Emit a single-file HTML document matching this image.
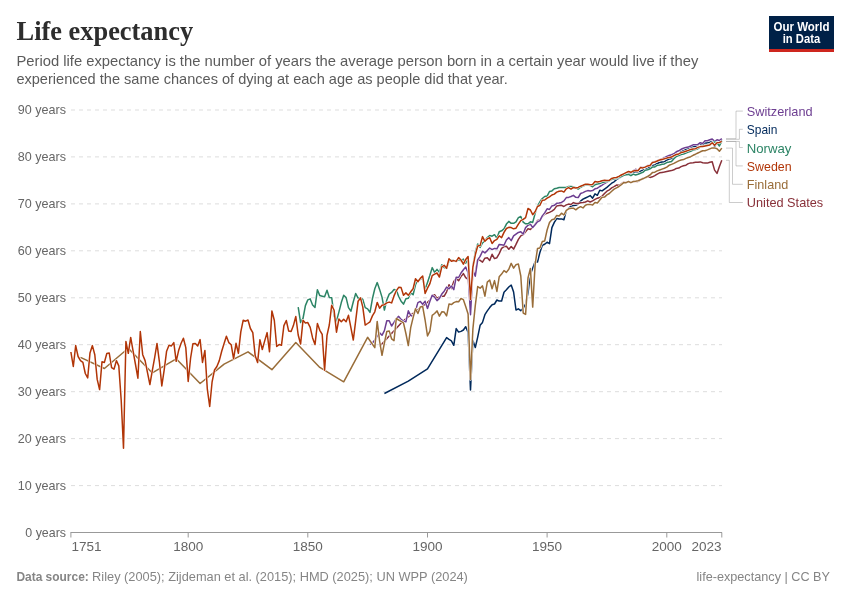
<!DOCTYPE html>
<html lang="en">
<head>
<meta charset="utf-8">
<title>Life expectancy</title>
<style>
html,body{margin:0;padding:0;background:#fff;}
body{width:850px;height:600px;overflow:hidden;}
svg{display:block;}
svg text{font-family:"Liberation Sans",sans-serif;}
svg text.serif{font-family:"Liberation Serif",serif;}
</style>
</head>
<body>
<svg width="850" height="600" viewBox="0 0 850 600">
<rect width="850" height="600" fill="#fff"/>
<g id="header">
<text class="serif" x="16.6" y="40" font-size="26.5" font-weight="bold" fill="#2d2d2d" textLength="176.5" lengthAdjust="spacingAndGlyphs">Life expectancy</text>
<text x="16.4" y="66" font-size="15" fill="#5b5b5b" textLength="681.9" lengthAdjust="spacingAndGlyphs">Period life expectancy is the number of years the average person born in a certain year would live if they</text>
<text x="16.4" y="84" font-size="15" fill="#5b5b5b" textLength="491.3" lengthAdjust="spacingAndGlyphs">experienced the same chances of dying at each age as people did that year.</text>
</g>
<g id="logo">
<rect x="769" y="16" width="65" height="36" fill="#002147"/>
<rect x="769" y="49" width="65" height="3" fill="#ce261e"/>
<text x="801.5" y="31" font-size="12" font-weight="bold" fill="#fff" text-anchor="middle" textLength="56" lengthAdjust="spacingAndGlyphs">Our World</text>
<text x="801.5" y="43" font-size="12" font-weight="bold" fill="#fff" text-anchor="middle" textLength="37.5" lengthAdjust="spacingAndGlyphs">in Data</text>
</g>
<g id="grid" stroke="#ddd" stroke-width="1" stroke-dasharray="4,4" fill="none">
<line x1="71" y1="485.6" x2="722" y2="485.6"/>
<line x1="71" y1="438.6" x2="722" y2="438.6"/>
<line x1="71" y1="391.7" x2="722" y2="391.7"/>
<line x1="71" y1="344.7" x2="722" y2="344.7"/>
<line x1="71" y1="297.8" x2="722" y2="297.8"/>
<line x1="71" y1="250.8" x2="722" y2="250.8"/>
<line x1="71" y1="203.9" x2="722" y2="203.9"/>
<line x1="71" y1="156.9" x2="722" y2="156.9"/>
<line x1="71" y1="110.0" x2="722" y2="110.0"/>
</g>
<g id="ylabels">
<text x="66" y="537" font-size="13.2" fill="#666" text-anchor="end" textLength="40.7" lengthAdjust="spacingAndGlyphs">0 years</text>
<text x="66" y="490" font-size="13.2" fill="#666" text-anchor="end" textLength="48.2" lengthAdjust="spacingAndGlyphs">10 years</text>
<text x="66" y="443" font-size="13.2" fill="#666" text-anchor="end" textLength="48.2" lengthAdjust="spacingAndGlyphs">20 years</text>
<text x="66" y="396" font-size="13.2" fill="#666" text-anchor="end" textLength="48.2" lengthAdjust="spacingAndGlyphs">30 years</text>
<text x="66" y="349" font-size="13.2" fill="#666" text-anchor="end" textLength="48.2" lengthAdjust="spacingAndGlyphs">40 years</text>
<text x="66" y="302" font-size="13.2" fill="#666" text-anchor="end" textLength="48.2" lengthAdjust="spacingAndGlyphs">50 years</text>
<text x="66" y="255" font-size="13.2" fill="#666" text-anchor="end" textLength="48.2" lengthAdjust="spacingAndGlyphs">60 years</text>
<text x="66" y="208" font-size="13.2" fill="#666" text-anchor="end" textLength="48.2" lengthAdjust="spacingAndGlyphs">70 years</text>
<text x="66" y="161" font-size="13.2" fill="#666" text-anchor="end" textLength="48.2" lengthAdjust="spacingAndGlyphs">80 years</text>
<text x="66" y="114" font-size="13.2" fill="#666" text-anchor="end" textLength="48.2" lengthAdjust="spacingAndGlyphs">90 years</text>
</g>
<g id="xaxis">
<path d="M70.5,532.5H722" stroke="#999" stroke-width="1" fill="none"/>
<line x1="70.9" y1="532.5" x2="70.9" y2="537.5" stroke="#999" stroke-width="1"/>
<text x="71.5" y="551" font-size="13.5" fill="#666" textLength="30.1" lengthAdjust="spacingAndGlyphs">1751</text>
<line x1="188.2" y1="532.5" x2="188.2" y2="537.5" stroke="#999" stroke-width="1"/>
<text x="188.2" y="551" font-size="13.5" fill="#666" text-anchor="middle" textLength="30.1" lengthAdjust="spacingAndGlyphs">1800</text>
<line x1="307.8" y1="532.5" x2="307.8" y2="537.5" stroke="#999" stroke-width="1"/>
<text x="307.8" y="551" font-size="13.5" fill="#666" text-anchor="middle" textLength="30.1" lengthAdjust="spacingAndGlyphs">1850</text>
<line x1="427.5" y1="532.5" x2="427.5" y2="537.5" stroke="#999" stroke-width="1"/>
<text x="427.5" y="551" font-size="13.5" fill="#666" text-anchor="middle" textLength="30.1" lengthAdjust="spacingAndGlyphs">1900</text>
<line x1="547.1" y1="532.5" x2="547.1" y2="537.5" stroke="#999" stroke-width="1"/>
<text x="547.1" y="551" font-size="13.5" fill="#666" text-anchor="middle" textLength="30.1" lengthAdjust="spacingAndGlyphs">1950</text>
<line x1="666.8" y1="532.5" x2="666.8" y2="537.5" stroke="#999" stroke-width="1"/>
<text x="666.8" y="551" font-size="13.5" fill="#666" text-anchor="middle" textLength="30.1" lengthAdjust="spacingAndGlyphs">2000</text>
<line x1="721.8" y1="532.5" x2="721.8" y2="537.5" stroke="#999" stroke-width="1"/>
<text x="721.6" y="551" font-size="13.5" fill="#666" text-anchor="end" textLength="30.1" lengthAdjust="spacingAndGlyphs">2023</text>
</g>
<g id="lines" fill="none" stroke-linejoin="round" stroke-linecap="butt">
<path stroke="#fff" stroke-width="2.5" d="M384.4,393.5L408.3,381.2L427.5,368.8L446.6,337.6L449.0,339.4L451.4,340.8L453.8,345.3L456.2,328.6L458.6,332.1L461.0,331.4L463.4,330.0L465.7,326.7L468.1,332.4L470.5,390.0L472.9,340.5L475.3,347.5L477.7,337.1L480.1,325.3L482.5,322.4L484.9,314.7L487.3,310.9L489.7,307.6L492.1,304.7L494.5,304.0L496.9,300.0L499.2,301.1L501.6,301.0L504.0,292.2L506.4,289.8L508.8,287.0L511.2,285.1L513.6,292.0L516.0,310.0L518.4,308.8L520.8,310.6L523.2,308.4L525.6,304.0L528.0,293.2L530.4,274.2L532.7,268.2L535.1,261.8L537.5,262.1L539.9,252.4L542.3,245.3L544.7,244.3L547.1,242.2L549.5,243.6L551.9,227.6L554.3,222.4L556.7,218.5L559.1,219.1L561.5,218.9L563.9,219.7L566.3,210.6L568.6,208.2L571.0,206.1L573.4,205.6L575.8,205.3L578.2,204.1L580.6,201.2L583.0,199.2L585.4,198.0L587.8,196.8L590.2,195.6L592.6,198.2L595.0,193.8L597.4,195.3L599.8,190.2L602.1,190.9L604.5,189.1L606.9,187.4L609.3,185.3L611.7,183.2L614.1,181.8L616.5,179.6L618.9,178.2L621.3,176.8L623.7,175.4L626.1,174.6L628.5,173.2L630.9,173.4L633.3,172.2L635.6,171.5L638.0,171.8L640.4,171.2L642.8,170.3L645.2,169.4L647.6,168.4L650.0,167.1L652.4,165.6L654.8,165.0L657.2,163.5L659.6,162.5L662.0,161.9L664.4,161.8L666.8,160.0L669.1,159.1L671.5,158.6L673.9,158.4L676.3,154.2L678.7,154.0L681.1,151.6L683.5,150.6L685.9,149.3L688.3,148.2L690.7,147.1L693.1,146.6L695.5,146.6L697.9,144.8L700.3,144.1L702.7,144.8L705.0,143.0L707.4,143.0L709.8,142.3L712.2,141.1L714.6,146.4L717.0,142.6L719.4,142.8L721.8,139.3"/>
<path id="spain" stroke="#00295B" stroke-width="1.5" d="M384.4,393.5L408.3,381.2L427.5,368.8L446.6,337.6L449.0,339.4L451.4,340.8L453.8,345.3L456.2,328.6L458.6,332.1L461.0,331.4L463.4,330.0L465.7,326.7L468.1,332.4L470.5,390.0L472.9,340.5L475.3,347.5L477.7,337.1L480.1,325.3L482.5,322.4L484.9,314.7L487.3,310.9L489.7,307.6L492.1,304.7L494.5,304.0L496.9,300.0L499.2,301.1L501.6,301.0L504.0,292.2L506.4,289.8L508.8,287.0L511.2,285.1L513.6,292.0L516.0,310.0L518.4,308.8L520.8,310.6L523.2,308.4L525.6,304.0L528.0,293.2L530.4,274.2L532.7,268.2L535.1,261.8L537.5,262.1L539.9,252.4L542.3,245.3L544.7,244.3L547.1,242.2L549.5,243.6L551.9,227.6L554.3,222.4L556.7,218.5L559.1,219.1L561.5,218.9L563.9,219.7L566.3,210.6L568.6,208.2L571.0,206.1L573.4,205.6L575.8,205.3L578.2,204.1L580.6,201.2L583.0,199.2L585.4,198.0L587.8,196.8L590.2,195.6L592.6,198.2L595.0,193.8L597.4,195.3L599.8,190.2L602.1,190.9L604.5,189.1L606.9,187.4L609.3,185.3L611.7,183.2L614.1,181.8L616.5,179.6L618.9,178.2L621.3,176.8L623.7,175.4L626.1,174.6L628.5,173.2L630.9,173.4L633.3,172.2L635.6,171.5L638.0,171.8L640.4,171.2L642.8,170.3L645.2,169.4L647.6,168.4L650.0,167.1L652.4,165.6L654.8,165.0L657.2,163.5L659.6,162.5L662.0,161.9L664.4,161.8L666.8,160.0L669.1,159.1L671.5,158.6L673.9,158.4L676.3,154.2L678.7,154.0L681.1,151.6L683.5,150.6L685.9,149.3L688.3,148.2L690.7,147.1L693.1,146.6L695.5,146.6L697.9,144.8L700.3,144.1L702.7,144.8L705.0,143.0L707.4,143.0L709.8,142.3L712.2,141.1L714.6,146.4L717.0,142.6L719.4,142.8L721.8,139.3"/>
<path stroke="#fff" stroke-width="2.5" d="M379.6,346.5L403.5,320.5L427.5,302.4L429.9,300.0L432.2,296.0L434.6,294.7L437.0,298.4L439.4,297.0L441.8,296.0L444.2,296.2L446.6,291.8L449.0,284.7L451.4,288.5L453.8,281.4L456.2,278.5L458.6,280.8L461.0,276.5L463.4,273.6L465.7,277.6L468.1,279.3L470.5,305.0L472.9,272.0L475.3,272.5L477.7,259.5L480.1,260.3L482.5,262.1L484.9,258.2L487.3,257.8L489.7,260.5L492.1,254.3L494.5,258.6L496.9,257.7L499.2,253.6L501.6,248.4L504.0,246.6L506.4,246.2L508.8,249.3L511.2,246.5L513.6,249.1L516.0,244.4L518.4,239.4L520.8,235.9L523.2,234.7L525.6,231.8L528.0,228.8L530.4,229.4L532.7,227.0L535.1,224.5L537.5,220.6L539.9,220.0L542.3,216.5L544.7,214.1L547.1,213.2L549.5,212.4L551.9,211.2L554.3,209.4L556.7,205.9L559.1,205.6L561.5,205.3L563.9,206.5L566.3,204.9L568.6,204.1L571.0,204.5L573.4,202.6L575.8,203.5L578.2,203.5L580.6,202.7L583.0,202.4L585.4,202.0L587.8,200.8L590.2,202.0L592.6,200.8L595.0,199.4L597.4,198.2L599.8,197.6L602.1,196.1L604.5,193.5L606.9,191.2L609.3,189.8L611.7,187.9L614.1,186.7L616.5,185.1L618.9,185.3L621.3,183.8L623.7,182.2L626.1,182.4L628.5,181.8L630.9,181.9L633.3,181.6L635.6,181.2L638.0,181.4L640.4,180.0L642.8,178.4L645.2,178.0L647.6,176.6L650.0,177.4L652.4,176.8L654.8,175.6L657.2,174.1L659.6,172.8L662.0,172.4L664.4,172.1L666.8,171.5L669.1,170.9L671.5,170.6L673.9,169.8L676.3,168.4L678.7,168.1L681.1,166.6L683.5,165.8L685.9,165.2L688.3,163.6L690.7,162.9L693.1,162.7L695.5,162.2L697.9,162.2L700.3,161.9L702.7,162.7L705.0,163.1L707.4,163.1L709.8,162.2L712.2,161.7L714.6,170.1L717.0,173.4L719.4,166.6L721.8,160.3"/>
<path id="usa" stroke="#883039" stroke-width="1.5" d="M379.6,346.5L403.5,320.5L427.5,302.4L429.9,300.0L432.2,296.0L434.6,294.7L437.0,298.4L439.4,297.0L441.8,296.0L444.2,296.2L446.6,291.8L449.0,284.7L451.4,288.5L453.8,281.4L456.2,278.5L458.6,280.8L461.0,276.5L463.4,273.6L465.7,277.6L468.1,279.3L470.5,305.0L472.9,272.0L475.3,272.5L477.7,259.5L480.1,260.3L482.5,262.1L484.9,258.2L487.3,257.8L489.7,260.5L492.1,254.3L494.5,258.6L496.9,257.7L499.2,253.6L501.6,248.4L504.0,246.6L506.4,246.2L508.8,249.3L511.2,246.5L513.6,249.1L516.0,244.4L518.4,239.4L520.8,235.9L523.2,234.7L525.6,231.8L528.0,228.8L530.4,229.4L532.7,227.0L535.1,224.5L537.5,220.6L539.9,220.0L542.3,216.5L544.7,214.1L547.1,213.2L549.5,212.4L551.9,211.2L554.3,209.4L556.7,205.9L559.1,205.6L561.5,205.3L563.9,206.5L566.3,204.9L568.6,204.1L571.0,204.5L573.4,202.6L575.8,203.5L578.2,203.5L580.6,202.7L583.0,202.4L585.4,202.0L587.8,200.8L590.2,202.0L592.6,200.8L595.0,199.4L597.4,198.2L599.8,197.6L602.1,196.1L604.5,193.5L606.9,191.2L609.3,189.8L611.7,187.9L614.1,186.7L616.5,185.1L618.9,185.3L621.3,183.8L623.7,182.2L626.1,182.4L628.5,181.8L630.9,181.9L633.3,181.6L635.6,181.2L638.0,181.4L640.4,180.0L642.8,178.4L645.2,178.0L647.6,176.6L650.0,177.4L652.4,176.8L654.8,175.6L657.2,174.1L659.6,172.8L662.0,172.4L664.4,172.1L666.8,171.5L669.1,170.9L671.5,170.6L673.9,169.8L676.3,168.4L678.7,168.1L681.1,166.6L683.5,165.8L685.9,165.2L688.3,163.6L690.7,162.9L693.1,162.7L695.5,162.2L697.9,162.2L700.3,161.9L702.7,162.7L705.0,163.1L707.4,163.1L709.8,162.2L712.2,161.7L714.6,170.1L717.0,173.4L719.4,166.6L721.8,160.3"/>
<path stroke="#fff" stroke-width="2.5" d="M370.0,344.5L372.4,342.9L374.8,340.0L377.2,336.0L379.6,332.9L382.0,335.3L384.4,330.6L386.8,320.8L389.2,320.8L391.6,326.0L394.0,322.4L396.3,318.6L398.7,316.4L401.1,319.4L403.5,321.1L405.9,321.8L408.3,310.8L410.7,315.3L413.1,316.5L415.5,310.6L417.9,302.6L420.3,301.4L422.7,304.3L425.1,301.2L427.5,308.4L429.9,301.2L432.2,295.3L434.6,297.1L437.0,300.7L439.4,298.4L441.8,294.1L444.2,291.2L446.6,287.1L449.0,288.8L451.4,286.0L453.8,289.6L456.2,277.2L458.6,277.5L461.0,273.0L463.4,269.7L465.7,267.1L468.1,272.6L470.5,314.7L472.9,270.5L475.3,276.2L477.7,259.9L480.1,256.4L482.5,251.2L484.9,252.9L487.3,250.6L489.7,248.0L492.1,249.6L494.5,248.4L496.9,248.8L499.2,244.4L501.6,244.8L504.0,245.2L506.4,240.0L508.8,237.6L511.2,240.6L513.6,235.9L516.0,234.1L518.4,232.4L520.8,231.8L523.2,234.1L525.6,227.6L528.0,225.3L530.4,224.1L532.7,227.6L535.1,224.7L537.5,221.8L539.9,220.6L542.3,215.9L544.7,212.9L547.1,208.8L549.5,209.4L551.9,205.9L554.3,205.3L556.7,203.3L559.1,202.9L561.5,202.4L563.9,200.9L566.3,197.6L568.6,197.4L571.0,196.5L573.4,195.3L575.8,197.3L578.2,197.6L580.6,193.5L583.0,192.6L585.4,191.4L587.8,190.6L590.2,190.9L592.6,190.6L595.0,188.8L597.4,188.2L599.8,186.5L602.1,185.1L604.5,183.5L606.9,182.0L609.3,180.8L611.7,179.2L614.1,178.2L616.5,177.8L618.9,176.7L621.3,175.3L623.7,174.1L626.1,172.9L628.5,171.8L630.9,172.4L633.3,170.6L635.6,169.3L638.0,170.4L640.4,167.3L642.8,167.6L645.2,166.8L647.6,165.6L650.0,165.2L652.4,162.2L654.8,161.8L657.2,160.7L659.6,159.6L662.0,158.8L664.4,157.6L666.8,156.5L669.1,155.5L671.5,154.7L673.9,153.8L676.3,151.8L678.7,150.8L681.1,149.3L683.5,148.2L685.9,147.4L688.3,147.1L690.7,146.0L693.1,144.8L695.5,144.8L697.9,144.4L700.3,142.7L702.7,143.5L705.0,140.8L707.4,140.7L709.8,139.8L712.2,139.0L714.6,141.3L717.0,139.8L719.4,140.5L721.8,138.6"/>
<path id="swiss" stroke="#6D3E91" stroke-width="1.5" d="M370.0,344.5L372.4,342.9L374.8,340.0L377.2,336.0L379.6,332.9L382.0,335.3L384.4,330.6L386.8,320.8L389.2,320.8L391.6,326.0L394.0,322.4L396.3,318.6L398.7,316.4L401.1,319.4L403.5,321.1L405.9,321.8L408.3,310.8L410.7,315.3L413.1,316.5L415.5,310.6L417.9,302.6L420.3,301.4L422.7,304.3L425.1,301.2L427.5,308.4L429.9,301.2L432.2,295.3L434.6,297.1L437.0,300.7L439.4,298.4L441.8,294.1L444.2,291.2L446.6,287.1L449.0,288.8L451.4,286.0L453.8,289.6L456.2,277.2L458.6,277.5L461.0,273.0L463.4,269.7L465.7,267.1L468.1,272.6L470.5,314.7L472.9,270.5L475.3,276.2L477.7,259.9L480.1,256.4L482.5,251.2L484.9,252.9L487.3,250.6L489.7,248.0L492.1,249.6L494.5,248.4L496.9,248.8L499.2,244.4L501.6,244.8L504.0,245.2L506.4,240.0L508.8,237.6L511.2,240.6L513.6,235.9L516.0,234.1L518.4,232.4L520.8,231.8L523.2,234.1L525.6,227.6L528.0,225.3L530.4,224.1L532.7,227.6L535.1,224.7L537.5,221.8L539.9,220.6L542.3,215.9L544.7,212.9L547.1,208.8L549.5,209.4L551.9,205.9L554.3,205.3L556.7,203.3L559.1,202.9L561.5,202.4L563.9,200.9L566.3,197.6L568.6,197.4L571.0,196.5L573.4,195.3L575.8,197.3L578.2,197.6L580.6,193.5L583.0,192.6L585.4,191.4L587.8,190.6L590.2,190.9L592.6,190.6L595.0,188.8L597.4,188.2L599.8,186.5L602.1,185.1L604.5,183.5L606.9,182.0L609.3,180.8L611.7,179.2L614.1,178.2L616.5,177.8L618.9,176.7L621.3,175.3L623.7,174.1L626.1,172.9L628.5,171.8L630.9,172.4L633.3,170.6L635.6,169.3L638.0,170.4L640.4,167.3L642.8,167.6L645.2,166.8L647.6,165.6L650.0,165.2L652.4,162.2L654.8,161.8L657.2,160.7L659.6,159.6L662.0,158.8L664.4,157.6L666.8,156.5L669.1,155.5L671.5,154.7L673.9,153.8L676.3,151.8L678.7,150.8L681.1,149.3L683.5,148.2L685.9,147.4L688.3,147.1L690.7,146.0L693.1,144.8L695.5,144.8L697.9,144.4L700.3,142.7L702.7,143.5L705.0,140.8L707.4,140.7L709.8,139.8L712.2,139.0L714.6,141.3L717.0,139.8L719.4,140.5L721.8,138.6"/>
<path stroke="#fff" stroke-width="2.5" d="M298.2,307.1L300.6,322.6L303.0,318.5L305.4,305.6L307.8,299.9L310.2,298.9L312.6,305.0L315.0,307.4L317.4,289.7L319.8,295.6L322.2,296.2L324.6,296.8L327.0,290.3L329.3,297.4L331.7,297.7L334.1,316.2L336.5,320.9L338.9,312.1L341.3,302.6L343.7,295.3L346.1,297.6L348.5,307.6L350.9,311.2L353.3,301.8L355.7,293.5L358.1,298.2L360.5,298.0L362.8,299.4L365.2,307.6L367.6,308.8L370.0,312.4L372.4,298.8L374.8,288.8L377.2,282.6L379.6,289.4L382.0,297.1L384.4,310.0L386.8,300.0L389.2,294.1L391.6,292.4L394.0,289.6L396.3,290.0L398.7,296.5L401.1,301.2L403.5,304.1L405.9,298.8L408.3,298.2L410.7,292.9L413.1,294.7L415.5,284.7L417.9,280.0L420.3,279.4L422.7,277.6L425.1,289.4L427.5,282.4L429.9,275.3L432.2,267.6L434.6,272.4L437.0,269.4L439.4,272.4L441.8,264.7L444.2,267.6L446.6,268.4L449.0,260.9L451.4,260.3L453.8,260.8L456.2,261.5L458.6,259.7L461.0,260.8L463.4,259.1L465.7,263.2L468.1,258.0L470.5,295.0L472.9,266.0L475.3,252.0L477.7,243.9L480.1,247.4L482.5,242.9L484.9,241.0L487.3,237.5L489.7,235.6L492.1,236.2L494.5,234.7L496.9,238.2L499.2,231.8L501.6,230.8L504.0,228.8L506.4,224.1L508.8,221.4L511.2,223.3L513.6,223.3L516.0,221.8L518.4,217.6L520.8,216.5L523.2,222.1L525.6,223.8L528.0,223.8L530.4,221.8L532.7,222.4L535.1,213.5L537.5,206.0L539.9,201.8L542.3,198.5L544.7,196.5L547.1,196.1L549.5,191.5L551.9,190.9L554.3,188.8L556.7,188.2L559.1,187.5L561.5,187.4L563.9,187.6L566.3,187.4L568.6,186.5L571.0,186.5L573.4,186.8L575.8,187.6L578.2,189.1L580.6,187.2L583.0,186.1L585.4,185.0L587.8,184.8L590.2,185.4L592.6,186.8L595.0,184.7L597.4,184.1L599.8,183.5L602.1,182.6L604.5,182.1L606.9,181.4L609.3,180.9L611.7,179.4L614.1,178.8L616.5,178.4L618.9,177.6L621.3,176.6L623.7,175.4L626.1,174.7L628.5,174.4L630.9,175.7L633.3,174.1L635.6,175.0L638.0,174.3L640.4,173.2L642.8,172.4L645.2,170.3L647.6,169.7L650.0,168.8L652.4,167.1L654.8,166.9L657.2,165.3L659.6,164.9L662.0,164.3L664.4,163.9L666.8,162.6L669.1,162.1L671.5,161.5L673.9,158.8L676.3,156.5L678.7,155.6L681.1,154.5L683.5,154.0L685.9,153.0L688.3,152.0L690.7,151.2L693.1,150.1L695.5,149.5L697.9,148.7L700.3,146.8L702.7,146.2L705.0,145.6L707.4,145.0L709.8,144.2L712.2,143.0L714.6,141.9L717.0,142.8L719.4,146.0L721.8,141.2"/>
<path id="norway" stroke="#2C8465" stroke-width="1.5" d="M298.2,307.1L300.6,322.6L303.0,318.5L305.4,305.6L307.8,299.9L310.2,298.9L312.6,305.0L315.0,307.4L317.4,289.7L319.8,295.6L322.2,296.2L324.6,296.8L327.0,290.3L329.3,297.4L331.7,297.7L334.1,316.2L336.5,320.9L338.9,312.1L341.3,302.6L343.7,295.3L346.1,297.6L348.5,307.6L350.9,311.2L353.3,301.8L355.7,293.5L358.1,298.2L360.5,298.0L362.8,299.4L365.2,307.6L367.6,308.8L370.0,312.4L372.4,298.8L374.8,288.8L377.2,282.6L379.6,289.4L382.0,297.1L384.4,310.0L386.8,300.0L389.2,294.1L391.6,292.4L394.0,289.6L396.3,290.0L398.7,296.5L401.1,301.2L403.5,304.1L405.9,298.8L408.3,298.2L410.7,292.9L413.1,294.7L415.5,284.7L417.9,280.0L420.3,279.4L422.7,277.6L425.1,289.4L427.5,282.4L429.9,275.3L432.2,267.6L434.6,272.4L437.0,269.4L439.4,272.4L441.8,264.7L444.2,267.6L446.6,268.4L449.0,260.9L451.4,260.3L453.8,260.8L456.2,261.5L458.6,259.7L461.0,260.8L463.4,259.1L465.7,263.2L468.1,258.0L470.5,295.0L472.9,266.0L475.3,252.0L477.7,243.9L480.1,247.4L482.5,242.9L484.9,241.0L487.3,237.5L489.7,235.6L492.1,236.2L494.5,234.7L496.9,238.2L499.2,231.8L501.6,230.8L504.0,228.8L506.4,224.1L508.8,221.4L511.2,223.3L513.6,223.3L516.0,221.8L518.4,217.6L520.8,216.5L523.2,222.1L525.6,223.8L528.0,223.8L530.4,221.8L532.7,222.4L535.1,213.5L537.5,206.0L539.9,201.8L542.3,198.5L544.7,196.5L547.1,196.1L549.5,191.5L551.9,190.9L554.3,188.8L556.7,188.2L559.1,187.5L561.5,187.4L563.9,187.6L566.3,187.4L568.6,186.5L571.0,186.5L573.4,186.8L575.8,187.6L578.2,189.1L580.6,187.2L583.0,186.1L585.4,185.0L587.8,184.8L590.2,185.4L592.6,186.8L595.0,184.7L597.4,184.1L599.8,183.5L602.1,182.6L604.5,182.1L606.9,181.4L609.3,180.9L611.7,179.4L614.1,178.8L616.5,178.4L618.9,177.6L621.3,176.6L623.7,175.4L626.1,174.7L628.5,174.4L630.9,175.7L633.3,174.1L635.6,175.0L638.0,174.3L640.4,173.2L642.8,172.4L645.2,170.3L647.6,169.7L650.0,168.8L652.4,167.1L654.8,166.9L657.2,165.3L659.6,164.9L662.0,164.3L664.4,163.9L666.8,162.6L669.1,162.1L671.5,161.5L673.9,158.8L676.3,156.5L678.7,155.6L681.1,154.5L683.5,154.0L685.9,153.0L688.3,152.0L690.7,151.2L693.1,150.1L695.5,149.5L697.9,148.7L700.3,146.8L702.7,146.2L705.0,145.6L707.4,145.0L709.8,144.2L712.2,143.0L714.6,141.9L717.0,142.8L719.4,146.0L721.8,141.2"/>
<path stroke="#fff" stroke-width="2.5" d="M80.5,357.4L104.4,368.5L128.3,348.2L152.3,372.9L176.2,358.8L200.1,383.5L224.1,364.1L248.0,351.8L271.9,369.7L295.8,342.6L319.8,367.4L343.7,381.8L367.6,337.3L374.8,347.6L377.2,321.4L379.6,341.0L382.0,355.3L384.4,343.0L386.8,331.5L389.2,330.9L391.6,338.8L394.0,340.6L396.3,318.5L398.7,320.0L401.1,321.4L403.5,322.9L405.9,333.5L408.3,345.6L410.7,327.6L413.1,317.6L415.5,308.8L417.9,313.5L420.3,307.1L422.7,306.6L425.1,320.0L427.5,335.9L429.9,331.2L432.2,315.3L434.6,313.5L437.0,310.9L439.4,316.1L441.8,311.8L444.2,312.1L446.6,315.9L449.0,304.1L451.4,304.6L453.8,302.6L456.2,301.6L458.6,301.8L461.0,298.5L463.4,299.7L465.7,306.5L468.1,314.1L470.5,379.4L472.9,328.8L475.3,305.3L477.7,286.5L480.1,288.2L482.5,285.9L484.9,296.2L487.3,282.1L489.7,280.0L492.1,288.8L494.5,280.6L496.9,291.4L499.2,276.8L501.6,274.1L504.0,270.6L506.4,272.4L508.8,269.3L511.2,263.4L513.6,268.2L516.0,264.7L518.4,264.1L520.8,276.0L523.2,313.0L525.6,314.4L528.0,278.0L530.4,268.4L532.7,307.1L535.1,264.7L537.5,248.6L539.9,248.1L542.3,241.5L544.7,240.9L547.1,230.0L549.5,222.6L551.9,219.7L554.3,219.1L556.7,215.4L559.1,215.9L561.5,213.2L563.9,215.0L566.3,210.3L568.6,208.8L571.0,208.2L573.4,208.2L575.8,209.8L578.2,207.9L580.6,206.7L583.0,207.9L585.4,205.3L587.8,204.4L590.2,204.4L592.6,205.1L595.0,202.4L597.4,202.9L599.8,200.0L602.1,197.3L604.5,197.1L606.9,194.9L609.3,193.5L611.7,191.2L614.1,189.1L616.5,187.9L618.9,186.5L621.3,184.7L623.7,182.7L626.1,182.7L628.5,181.5L630.9,182.7L633.3,181.5L635.6,181.2L638.0,180.8L640.4,179.7L642.8,178.8L645.2,177.6L647.6,176.5L650.0,175.0L652.4,172.6L654.8,172.2L657.2,170.9L659.6,170.0L662.0,169.1L664.4,168.2L666.8,167.1L669.1,165.3L671.5,164.4L673.9,163.4L676.3,162.1L678.7,160.9L681.1,160.0L683.5,159.6L685.9,158.4L688.3,157.5L690.7,156.7L693.1,155.3L695.5,154.2L697.9,153.0L700.3,151.8L702.7,150.7L705.0,150.7L707.4,149.9L709.8,148.9L712.2,147.9L714.6,147.9L717.0,148.7L719.4,151.2L721.8,148.1"/>
<path id="finland" stroke="#996D39" stroke-width="1.5" d="M80.5,357.4L104.4,368.5L128.3,348.2L152.3,372.9L176.2,358.8L200.1,383.5L224.1,364.1L248.0,351.8L271.9,369.7L295.8,342.6L319.8,367.4L343.7,381.8L367.6,337.3L374.8,347.6L377.2,321.4L379.6,341.0L382.0,355.3L384.4,343.0L386.8,331.5L389.2,330.9L391.6,338.8L394.0,340.6L396.3,318.5L398.7,320.0L401.1,321.4L403.5,322.9L405.9,333.5L408.3,345.6L410.7,327.6L413.1,317.6L415.5,308.8L417.9,313.5L420.3,307.1L422.7,306.6L425.1,320.0L427.5,335.9L429.9,331.2L432.2,315.3L434.6,313.5L437.0,310.9L439.4,316.1L441.8,311.8L444.2,312.1L446.6,315.9L449.0,304.1L451.4,304.6L453.8,302.6L456.2,301.6L458.6,301.8L461.0,298.5L463.4,299.7L465.7,306.5L468.1,314.1L470.5,379.4L472.9,328.8L475.3,305.3L477.7,286.5L480.1,288.2L482.5,285.9L484.9,296.2L487.3,282.1L489.7,280.0L492.1,288.8L494.5,280.6L496.9,291.4L499.2,276.8L501.6,274.1L504.0,270.6L506.4,272.4L508.8,269.3L511.2,263.4L513.6,268.2L516.0,264.7L518.4,264.1L520.8,276.0L523.2,313.0L525.6,314.4L528.0,278.0L530.4,268.4L532.7,307.1L535.1,264.7L537.5,248.6L539.9,248.1L542.3,241.5L544.7,240.9L547.1,230.0L549.5,222.6L551.9,219.7L554.3,219.1L556.7,215.4L559.1,215.9L561.5,213.2L563.9,215.0L566.3,210.3L568.6,208.8L571.0,208.2L573.4,208.2L575.8,209.8L578.2,207.9L580.6,206.7L583.0,207.9L585.4,205.3L587.8,204.4L590.2,204.4L592.6,205.1L595.0,202.4L597.4,202.9L599.8,200.0L602.1,197.3L604.5,197.1L606.9,194.9L609.3,193.5L611.7,191.2L614.1,189.1L616.5,187.9L618.9,186.5L621.3,184.7L623.7,182.7L626.1,182.7L628.5,181.5L630.9,182.7L633.3,181.5L635.6,181.2L638.0,180.8L640.4,179.7L642.8,178.8L645.2,177.6L647.6,176.5L650.0,175.0L652.4,172.6L654.8,172.2L657.2,170.9L659.6,170.0L662.0,169.1L664.4,168.2L666.8,167.1L669.1,165.3L671.5,164.4L673.9,163.4L676.3,162.1L678.7,160.9L681.1,160.0L683.5,159.6L685.9,158.4L688.3,157.5L690.7,156.7L693.1,155.3L695.5,154.2L697.9,153.0L700.3,151.8L702.7,150.7L705.0,150.7L707.4,149.9L709.8,148.9L712.2,147.9L714.6,147.9L717.0,148.7L719.4,151.2L721.8,148.1"/>
<path stroke="#fff" stroke-width="2.5" d="M70.9,352.0L73.3,366.5L75.7,345.6L78.1,356.5L80.5,360.6L82.9,362.4L85.3,373.5L87.7,377.9L90.0,352.9L92.4,345.6L94.8,354.7L97.2,379.4L99.6,389.6L102.0,361.8L104.4,362.4L106.8,353.5L109.2,352.9L111.6,367.6L114.0,369.2L116.4,360.6L118.8,365.9L121.2,400.3L123.5,448.3L125.9,341.5L128.3,353.3L130.7,337.4L133.1,351.2L135.5,364.5L137.9,378.2L140.3,331.5L142.7,354.7L145.1,360.6L147.5,372.6L149.9,384.5L152.3,370.6L154.7,357.3L157.0,343.4L159.4,361.8L161.8,385.9L164.2,369.9L166.6,351.2L169.0,345.3L171.4,345.9L173.8,342.6L176.2,361.3L178.6,350.6L181.0,343.5L183.4,338.2L185.8,347.6L188.2,381.5L190.6,358.0L192.9,343.8L195.3,343.5L197.7,345.9L200.1,339.6L202.5,362.4L204.9,350.4L207.3,388.8L209.7,406.5L212.1,381.8L214.5,370.0L216.9,366.5L219.3,360.6L221.7,351.2L224.1,343.5L226.4,336.2L228.8,342.6L231.2,344.7L233.6,358.8L236.0,343.3L238.4,353.2L240.8,331.8L243.2,320.2L245.6,321.2L248.0,320.0L250.4,328.5L252.8,332.6L255.2,355.8L257.6,362.6L259.9,339.7L262.3,349.5L264.7,340.9L267.1,332.6L269.5,351.8L271.9,310.9L274.3,320.3L276.7,346.5L279.1,344.6L281.5,345.2L283.9,325.6L286.3,320.5L288.7,331.1L291.1,331.5L293.4,325.6L295.8,316.5L298.2,335.0L300.6,344.0L303.0,320.3L305.4,322.9L307.8,322.6L310.2,327.4L312.6,337.9L315.0,344.6L317.4,323.6L319.8,330.3L322.2,334.4L324.6,370.3L327.0,335.3L329.3,325.0L331.7,305.2L334.1,310.3L336.5,332.2L338.9,319.1L341.3,321.8L343.7,319.3L346.1,321.8L348.5,315.3L350.9,327.6L353.3,340.0L355.7,320.6L358.1,301.2L360.5,297.9L362.8,307.1L365.2,325.1L367.6,323.5L370.0,321.8L372.4,315.9L374.8,311.8L377.2,302.4L379.6,308.2L382.0,305.3L384.4,304.7L386.8,302.9L389.2,302.1L391.6,302.9L394.0,295.9L396.3,290.8L398.7,287.3L401.1,287.6L403.5,295.3L405.9,292.9L408.3,295.3L410.7,291.8L413.1,288.8L415.5,278.8L417.9,281.8L420.3,278.4L422.7,276.0L425.1,293.4L427.5,288.2L429.9,283.6L432.2,275.6L434.6,274.1L437.0,273.0L439.4,277.0L441.8,266.8L444.2,265.3L446.6,268.2L449.0,258.8L451.4,261.2L453.8,260.6L456.2,261.4L458.6,257.6L461.0,260.0L463.4,264.1L465.7,259.4L468.1,256.5L470.5,299.5L472.9,267.0L475.3,254.8L477.7,246.0L480.1,245.6L482.5,236.6L484.9,241.3L487.3,238.9L489.7,237.8L492.1,243.5L494.5,240.6L496.9,239.4L499.2,235.9L501.6,237.6L504.0,232.4L506.4,228.5L508.8,227.3L511.2,227.6L513.6,228.8L516.0,228.2L518.4,224.1L520.8,220.6L523.2,219.4L525.6,217.6L528.0,208.5L530.4,210.0L532.7,214.7L535.1,211.8L537.5,206.5L539.9,205.3L542.3,200.3L544.7,200.0L547.1,198.2L549.5,196.8L551.9,195.0L554.3,194.1L556.7,192.1L559.1,191.2L561.5,190.9L563.9,192.1L566.3,188.8L568.6,187.6L571.0,189.1L573.4,187.4L575.8,187.9L578.2,187.4L580.6,186.2L583.0,185.3L585.4,184.3L587.8,184.2L590.2,184.8L592.6,184.4L595.0,181.5L597.4,182.1L599.8,181.5L602.1,180.7L604.5,180.3L606.9,180.5L609.3,180.3L611.7,178.4L614.1,177.8L616.5,177.5L618.9,176.4L621.3,175.0L623.7,173.8L626.1,172.6L628.5,171.5L630.9,172.3L633.3,171.0L635.6,170.4L638.0,170.8L640.4,167.6L642.8,167.9L645.2,167.1L647.6,165.9L650.0,165.5L652.4,162.5L654.8,162.1L657.2,161.0L659.6,160.0L662.0,159.4L664.4,158.8L666.8,158.1L669.1,157.5L671.5,157.1L673.9,155.6L676.3,154.5L678.7,153.9L681.1,152.6L683.5,152.0L685.9,151.2L688.3,150.4L690.7,149.5L693.1,148.9L695.5,148.7L697.9,147.4L700.3,146.6L702.7,146.6L705.0,146.0L707.4,145.4L709.8,144.9L712.2,142.7L714.6,145.2L717.0,142.7L719.4,142.5L721.8,141.4"/>
<path id="sweden" stroke="#B13507" stroke-width="1.5" d="M70.9,352.0L73.3,366.5L75.7,345.6L78.1,356.5L80.5,360.6L82.9,362.4L85.3,373.5L87.7,377.9L90.0,352.9L92.4,345.6L94.8,354.7L97.2,379.4L99.6,389.6L102.0,361.8L104.4,362.4L106.8,353.5L109.2,352.9L111.6,367.6L114.0,369.2L116.4,360.6L118.8,365.9L121.2,400.3L123.5,448.3L125.9,341.5L128.3,353.3L130.7,337.4L133.1,351.2L135.5,364.5L137.9,378.2L140.3,331.5L142.7,354.7L145.1,360.6L147.5,372.6L149.9,384.5L152.3,370.6L154.7,357.3L157.0,343.4L159.4,361.8L161.8,385.9L164.2,369.9L166.6,351.2L169.0,345.3L171.4,345.9L173.8,342.6L176.2,361.3L178.6,350.6L181.0,343.5L183.4,338.2L185.8,347.6L188.2,381.5L190.6,358.0L192.9,343.8L195.3,343.5L197.7,345.9L200.1,339.6L202.5,362.4L204.9,350.4L207.3,388.8L209.7,406.5L212.1,381.8L214.5,370.0L216.9,366.5L219.3,360.6L221.7,351.2L224.1,343.5L226.4,336.2L228.8,342.6L231.2,344.7L233.6,358.8L236.0,343.3L238.4,353.2L240.8,331.8L243.2,320.2L245.6,321.2L248.0,320.0L250.4,328.5L252.8,332.6L255.2,355.8L257.6,362.6L259.9,339.7L262.3,349.5L264.7,340.9L267.1,332.6L269.5,351.8L271.9,310.9L274.3,320.3L276.7,346.5L279.1,344.6L281.5,345.2L283.9,325.6L286.3,320.5L288.7,331.1L291.1,331.5L293.4,325.6L295.8,316.5L298.2,335.0L300.6,344.0L303.0,320.3L305.4,322.9L307.8,322.6L310.2,327.4L312.6,337.9L315.0,344.6L317.4,323.6L319.8,330.3L322.2,334.4L324.6,370.3L327.0,335.3L329.3,325.0L331.7,305.2L334.1,310.3L336.5,332.2L338.9,319.1L341.3,321.8L343.7,319.3L346.1,321.8L348.5,315.3L350.9,327.6L353.3,340.0L355.7,320.6L358.1,301.2L360.5,297.9L362.8,307.1L365.2,325.1L367.6,323.5L370.0,321.8L372.4,315.9L374.8,311.8L377.2,302.4L379.6,308.2L382.0,305.3L384.4,304.7L386.8,302.9L389.2,302.1L391.6,302.9L394.0,295.9L396.3,290.8L398.7,287.3L401.1,287.6L403.5,295.3L405.9,292.9L408.3,295.3L410.7,291.8L413.1,288.8L415.5,278.8L417.9,281.8L420.3,278.4L422.7,276.0L425.1,293.4L427.5,288.2L429.9,283.6L432.2,275.6L434.6,274.1L437.0,273.0L439.4,277.0L441.8,266.8L444.2,265.3L446.6,268.2L449.0,258.8L451.4,261.2L453.8,260.6L456.2,261.4L458.6,257.6L461.0,260.0L463.4,264.1L465.7,259.4L468.1,256.5L470.5,299.5L472.9,267.0L475.3,254.8L477.7,246.0L480.1,245.6L482.5,236.6L484.9,241.3L487.3,238.9L489.7,237.8L492.1,243.5L494.5,240.6L496.9,239.4L499.2,235.9L501.6,237.6L504.0,232.4L506.4,228.5L508.8,227.3L511.2,227.6L513.6,228.8L516.0,228.2L518.4,224.1L520.8,220.6L523.2,219.4L525.6,217.6L528.0,208.5L530.4,210.0L532.7,214.7L535.1,211.8L537.5,206.5L539.9,205.3L542.3,200.3L544.7,200.0L547.1,198.2L549.5,196.8L551.9,195.0L554.3,194.1L556.7,192.1L559.1,191.2L561.5,190.9L563.9,192.1L566.3,188.8L568.6,187.6L571.0,189.1L573.4,187.4L575.8,187.9L578.2,187.4L580.6,186.2L583.0,185.3L585.4,184.3L587.8,184.2L590.2,184.8L592.6,184.4L595.0,181.5L597.4,182.1L599.8,181.5L602.1,180.7L604.5,180.3L606.9,180.5L609.3,180.3L611.7,178.4L614.1,177.8L616.5,177.5L618.9,176.4L621.3,175.0L623.7,173.8L626.1,172.6L628.5,171.5L630.9,172.3L633.3,171.0L635.6,170.4L638.0,170.8L640.4,167.6L642.8,167.9L645.2,167.1L647.6,165.9L650.0,165.5L652.4,162.5L654.8,162.1L657.2,161.0L659.6,160.0L662.0,159.4L664.4,158.8L666.8,158.1L669.1,157.5L671.5,157.1L673.9,155.6L676.3,154.5L678.7,153.9L681.1,152.6L683.5,152.0L685.9,151.2L688.3,150.4L690.7,149.5L693.1,148.9L695.5,148.7L697.9,147.4L700.3,146.6L702.7,146.6L705.0,146.0L707.4,145.4L709.8,144.9L712.2,142.7L714.6,145.2L717.0,142.7L719.4,142.5L721.8,141.4"/>
</g>
<g id="connectors" fill="none" stroke="#999" stroke-width="0.5">
<path d="M726,138.7H736V111.1H742.8"/>
<path d="M726,139.3H739.4V129.3H742.8"/>
<path d="M726,141.4H739.4V147.5H742.8"/>
<path d="M726,141.5H736V165.9H742.8"/>
<path d="M726,148.1H732.5V184.3H742.8"/>
<path d="M726,160.3H729.3V202.5H742.8"/>
</g>
<g id="labels">
<text x="746.8" y="115.6" font-size="13" fill="#6D3E91" textLength="65.8" lengthAdjust="spacingAndGlyphs">Switzerland</text>
<text x="746.8" y="133.9" font-size="13" fill="#00295B" textLength="30.6" lengthAdjust="spacingAndGlyphs">Spain</text>
<text x="746.8" y="152.6" font-size="13" fill="#2C8465" textLength="44.6" lengthAdjust="spacingAndGlyphs">Norway</text>
<text x="746.8" y="170.6" font-size="13" fill="#B13507" textLength="44.8" lengthAdjust="spacingAndGlyphs">Sweden</text>
<text x="746.8" y="189" font-size="13" fill="#996D39" textLength="41.4" lengthAdjust="spacingAndGlyphs">Finland</text>
<text x="746.8" y="207.3" font-size="13" fill="#883039" textLength="76.4" lengthAdjust="spacingAndGlyphs">United States</text>
</g>
<g id="footer">
<text x="16.4" y="581" font-size="13" fill="#858585"><tspan font-weight="bold" textLength="72.4" lengthAdjust="spacingAndGlyphs">Data source:</tspan><tspan dx="3.3" textLength="375.8" lengthAdjust="spacingAndGlyphs">Riley (2005); Zijdeman et al. (2015); HMD (2025); UN WPP (2024)</tspan></text>
<text x="830" y="581" font-size="13" fill="#858585" text-anchor="end" textLength="133.5" lengthAdjust="spacingAndGlyphs">life-expectancy | CC BY</text>
</g>
</svg>
</body>
</html>
